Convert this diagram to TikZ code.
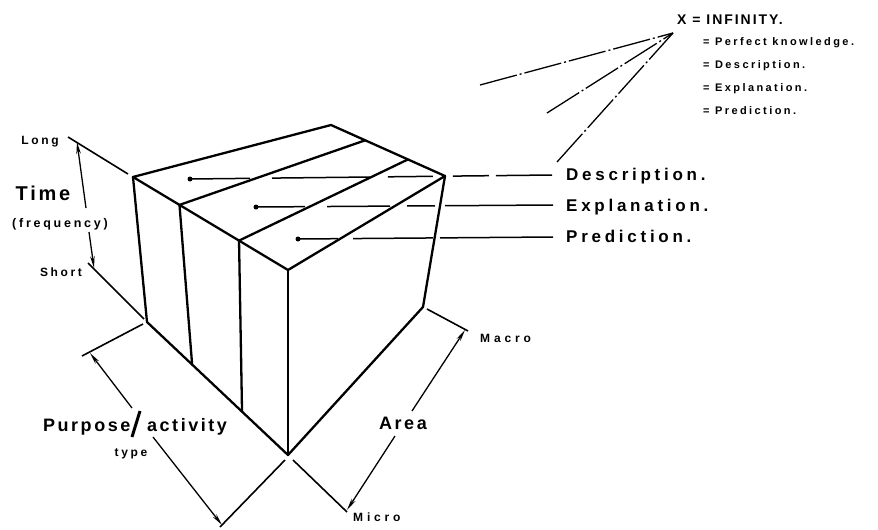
\documentclass[tikz,border=0pt]{standalone}
\usepackage{fontspec}
\setmainfont{Liberation Sans}
\newfontfamily\fmed[LetterSpace=14]{Liberation Sans}
\newfontfamily\fwide[LetterSpace=22]{Liberation Sans}
\newfontfamily\fsmall[LetterSpace=22]{Liberation Sans}
\newfontfamily\fwider[LetterSpace=32]{Liberation Sans}
\usetikzlibrary{arrows.meta,calc}
\tikzset{
  edge/.style={line width=2.3pt, line cap=round, line join=round},
  leader/.style={line width=1.5pt},
  ext/.style={line width=1.6pt},
  dim/.style={line width=1.3pt, -{Stealth[length=12pt,width=4.5pt]}},
  dashdot/.style={line width=1.3pt, dash pattern=on 38pt off 3pt on 2pt off 3pt},
  dot/.style={circle, fill, inner sep=0pt, minimum size=5pt},
  biglab/.style={font=\fwide\bfseries\fontsize{17}{17}\selectfont, inner sep=0pt, anchor=base west},
  toplab/.style={font=\fmed\bfseries\fontsize{14}{14}\selectfont, inner sep=0pt, anchor=base west},
  sublab/.style={font=\fsmall\bfseries\fontsize{11}{11}\selectfont, inner sep=0pt, anchor=base west},
  smalllab/.style={font=\fsmall\bfseries\fontsize{12}{12}\selectfont, inner sep=0pt, anchor=base},
  endlab/.style={font=\fwider\bfseries\fontsize{12}{12}\selectfont, inner sep=0pt, anchor=base west},
  axislab/.style={font=\fmed\bfseries\fontsize{18}{18}\selectfont, inner sep=0pt, anchor=base west}
}
\begin{document}
\begin{tikzpicture}[x=1pt,y=-1pt]
\useasboundingbox (0,0) rectangle (878,530);
% box corners
\coordinate (A) at (133,177);
\coordinate (B) at (331,125);
\coordinate (C) at (445,176);
\coordinate (D) at (288,270);
\coordinate (E) at (288,455);
\coordinate (F) at (423,307);
\coordinate (G) at (147,322);
\coordinate (P1) at ($(A)!0.30!(D)$);
\coordinate (Q1) at ($(G)!0.32!(E)$);
\coordinate (R1) at ($(B)!0.30!(C)$);
\coordinate (P2) at ($(A)!0.684!(D)$);
\coordinate (Q2) at ($(G)!0.674!(E)$);
\coordinate (R2) at ($(B)!0.675!(C)$);
% dots and leader lines (broken where they pass behind edges)
\node[dot] (d1) at (190,179) {};
\node[dot] (d2) at (256,207) {};
\node[dot] (d3) at (298,239) {};
\coordinate (e1) at (552,175);
\coordinate (e2) at (553,205);
\coordinate (e3) at (553,237);
\draw[leader, dash pattern=on 60pt off 22pt on 98pt off 18pt on 45pt off 20pt on 36pt off 7pt on 60pt] (d1.center) -- (e1);
\draw[leader, dash pattern=on 49pt off 22pt on 63pt off 17pt on 28pt off 10pt on 120pt] (d2.center) -- (e2);
\draw[leader, dash pattern=on 40pt off 15pt on 80pt off 7pt on 120pt] (d3.center) -- (e3);
% box edges
\draw[edge] (A) -- (B) -- (C) -- (D) -- cycle;
\draw[edge] (A) -- (G) -- (E) -- (F) -- (C);
\draw[edge] (D) -- (E);
\draw[edge] (P1) -- (R1);
\draw[edge] (P2) -- (R2);
\draw[edge] (P1) -- (Q1);
\draw[edge] (P2) -- (Q2);
% right labels
\node[biglab] (desc) at (566,180) {Description.};
\node[biglab] (expl) at (566,211) {Explanation.};
\node[biglab] (pred) at (566,242) {Prediction.};
% infinity
\node[toplab] (inf) at (677,24) {X = INFINITY.};
\node[sublab] (s1) at (703,45) {= Perfect knowledge.};
\node[sublab] (s2) at (703,68) {= Description.};
\node[sublab] (s3) at (703,91) {= Explanation.};
\node[sublab] (s4) at (703,114) {= Prediction.};
\coordinate (apex) at (673,33);
\coordinate (x1) at (480,85);
\coordinate (x2) at (547,113);
\coordinate (x3) at (557,162);
\draw[dashdot] (x1) -- (apex);
\draw[dashdot] (x2) -- (apex);
\draw[dashdot] (x3) -- (apex);
% time dimension
\node[smalllab] (long) at (40,144) {Long};
\node[smalllab] (short) at (61,276) {Short};
\node[font=\fmed\bfseries\fontsize{20}{20}\selectfont, inner sep=0pt, anchor=base] (time) at (43,200) {Time};
\node[font=\fsmall\bfseries\fontsize{12.5}{12.5}\selectfont, inner sep=0pt, anchor=base] (freq) at (60,227) {(frequency)};
\coordinate (l1) at (68,137);
\coordinate (l2) at (128,174);
\coordinate (s1a) at (88,263);
\coordinate (s1b) at (144,319);
\draw[ext] (l1) -- (l2);
\draw[ext] (s1a) -- (s1b);
\coordinate (ta) at (86,208);
\coordinate (tat) at (77,142);
\coordinate (tb) at (89,232);
\coordinate (tbt) at (94,268);
\draw[dim] (ta) -- (tat);
\draw[dim] (tb) -- (tbt);
% purpose dimension
\node[axislab] (purp) at (43,431) {Purpose};
\node[axislab] (act) at (147,431) {activity};
\node[smalllab] (type) at (131,456) {type};
\coordinate (sl1) at (132,437);
\coordinate (sl2) at (140,411);
\draw[line width=3pt] (sl1) -- (sl2);
\coordinate (pa1) at (143,324);
\coordinate (pa2) at (82,356);
\coordinate (pb1) at (285,460);
\coordinate (pb2) at (220,527);
\draw[ext] (pa1) -- (pa2);
\draw[ext] (pb1) -- (pb2);
\coordinate (pu) at (132,408);
\coordinate (put) at (90,353);
\coordinate (pd) at (153,437);
\coordinate (pdt) at (222,525);
\draw[dim] (pu) -- (put);
\draw[dim] (pd) -- (pdt);
% area dimension
\node[axislab, anchor=base] (area) at (403,429) {Area};
\node[endlab] (macro) at (480,342) {Macro};
\node[endlab] (micro) at (353,521) {Micro};
\coordinate (ma1) at (427,309);
\coordinate (ma2) at (468,331);
\coordinate (mi1) at (293,460);
\coordinate (mi2) at (347,512);
\draw[ext] (ma1) -- (ma2);
\draw[ext] (mi1) -- (mi2);
\coordinate (au) at (412,411);
\coordinate (aut) at (465,330);
\coordinate (ad) at (395,436);
\coordinate (adt) at (347,510);
\draw[dim] (au) -- (aut);
\draw[dim] (ad) -- (adt);
\end{tikzpicture}
\end{document}
